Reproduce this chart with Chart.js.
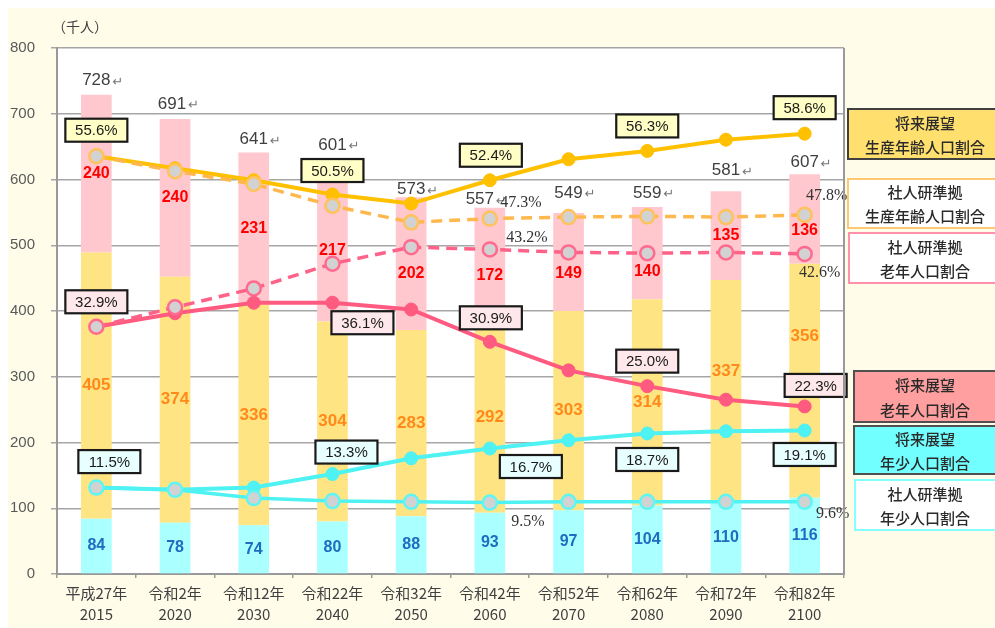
<!DOCTYPE html>
<html><head><meta charset="utf-8">
<script src="https://cdn.jsdelivr.net/npm/chart.js@4"></script>
<style>html,body{margin:0;padding:0;background:#fff}canvas{display:block}</style>
</head><body>
<canvas id="c" width="995" height="628"></canvas>
<script>
// ---- data ----
const eraLabels = ['平成27年','令和2年','令和12年','令和22年','令和32年','令和42年','令和52年','令和62年','令和72年','令和82年'];
const yearLabels = ['2015','2020','2030','2040','2050','2060','2070','2080','2090','2100'];
const youngPop = [84,78,74,80,88,93,97,104,110,116];
const workingPop = [405,374,336,304,283,292,303,314,337,356];
const elderlyPop = [240,240,231,217,202,172,149,140,135,136];
const totalPop = [728,691,641,601,573,557,549,559,581,607];
const workRatioFuture = [55.6,54.0,52.4,50.5,49.3,52.4,55.2,56.3,57.8,58.6];
const workRatioIpss = [55.6,53.6,51.9,49.0,46.8,47.3,47.5,47.6,47.5,47.8];
const elderRatioIpss = [32.9,35.5,38.0,41.3,43.5,43.2,42.8,42.7,42.8,42.6];
const elderRatioFuture = [32.9,34.7,36.1,36.1,35.2,30.9,27.1,25.0,23.2,22.3];
const youngRatioFuture = [11.5,11.2,11.5,13.3,15.4,16.7,17.8,18.7,19.0,19.1];
const youngRatioIpss = [11.5,11.2,10.1,9.7,9.6,9.5,9.6,9.6,9.6,9.6];
const legendItems = [
  ['将来展望','生産年齢人口割合'],
  ['社人研準拠','生産年齢人口割合'],
  ['社人研準拠','老年人口割合'],
  ['将来展望','老年人口割合'],
  ['将来展望','年少人口割合'],
  ['社人研準拠','年少人口割合']
];
const unitLabel = '（千人）';

// ---- styles / layout (not data) ----
const JP = '"Noto Sans CJK JP","Noto Sans",sans-serif';
const legendBoxes = [
  {x:848,y:109,h:50,fill:'#ffdf6e',stroke:'#404040'},
  {x:848,y:179,h:49,fill:'#ffffff',stroke:'#ffc873'},
  {x:849,y:233,h:50,fill:'#ffffff',stroke:'#ff92aa'},
  {x:854,y:371,h:51,fill:'#ff9f9f',stroke:'#505050'},
  {x:854,y:426,h:48,fill:'#72ffff',stroke:'#505050'},
  {x:855,y:480,h:50,fill:'#ffffff',stroke:'#86ffff'}
];
const totalLift = [14,15,13,34,8,8,20,14,21,12];
const totalShiftX = [0,-3,0,0,0,-10,0,0,0,0];

const bgPlugin = {
  id:'bg',
  beforeDraw(chart){
    const {ctx, chartArea:a} = chart;
    ctx.save();
    ctx.fillStyle='#ffffff'; ctx.fillRect(0,0,chart.width,chart.height);
    ctx.fillStyle='#fffdea'; ctx.fillRect(8,8,chart.width-8,chart.height-8);
    ctx.fillStyle='#ffffff'; ctx.fillRect(a.left,a.top,a.right-a.left,a.bottom-a.top);
    ctx.restore();
  },
  afterDraw(chart){
    const {ctx, chartArea:a} = chart;
    ctx.save();
    ctx.strokeStyle='#999999'; ctx.lineWidth=2;
    ctx.beginPath(); ctx.moveTo(a.right,a.top); ctx.lineTo(a.right,a.bottom+1); ctx.stroke();
    ctx.fillStyle='#404040'; ctx.font='14px '+JP; ctx.textBaseline='middle'; ctx.textAlign='left';
    ctx.fillText(unitLabel,52,27);
    legendBoxes.forEach((b,i)=>{
      ctx.fillStyle=b.fill; ctx.fillRect(b.x,b.y,1000-b.x,b.h);
      ctx.strokeStyle=b.stroke; ctx.lineWidth=2; ctx.strokeRect(b.x,b.y,1000-b.x,b.h);
      ctx.fillStyle='#2a2a2a'; ctx.font='500 15px '+JP; ctx.textAlign='center'; ctx.textBaseline='middle';
      ctx.fillText(legendItems[i][0],925,b.y+b.h*0.28);
      ctx.fillText(legendItems[i][1],925,b.y+b.h*0.77);
    });
    ctx.restore();
  }
};

const labelPlugin = {
  id:'valueLabels',
  afterDatasetsDraw(chart){
    const ctx = chart.ctx;
    ctx.save();
    ctx.textAlign='center'; ctx.textBaseline='middle';
    chart.data.datasets.forEach((ds,di)=>{
      const meta = chart.getDatasetMeta(di);
      if (ds.type==='bar') {
        meta.data.forEach((el,i)=>{
          const nudge = (ds.labelNudge && ds.labelNudge[i]) || 0;
          ctx.fillStyle = ds.labelColor;
          ctx.font = ds.labelFont;
          ctx.fillText(String(ds.data[i]), el.x, (el.y+el.base)/2 + nudge);
        });
        if (ds.isTop) {
          meta.data.forEach((el,i)=>{
            const y = el.y - totalLift[i];
            const x = el.x + totalShiftX[i];
            ctx.font='17px "Liberation Sans",Arial,sans-serif';
            ctx.fillStyle='#404040';
            ctx.textAlign='center';
            const t = String(totalPop[i]);
            ctx.fillText(t, x, y);
            const w = ctx.measureText(t).width;
            ctx.font='13px "DejaVu Sans",sans-serif';
            ctx.fillStyle='#777777';
            ctx.textAlign='left';
            ctx.fillText('↵', x + w/2 + 2, y+2);
            ctx.textAlign='center';
          });
        }
      }
    });
    chart.data.datasets.forEach((ds,di)=>{
      if (ds.type!=='line' || !ds.pctLabels) return;
      const meta = chart.getDatasetMeta(di);
      Object.keys(ds.pctLabels).forEach(k=>{
        const i = +k; const [dx,dy] = ds.pctLabels[k];
        const el = meta.data[i];
        const cx = el.x+dx, cy = el.y+dy;
        const txt = ds.data[i].toFixed(1)+'%';
        if (ds.boxFill) {
          const w=62,h=23;
          ctx.fillStyle=ds.boxFill; ctx.fillRect(cx-w/2,cy-h/2,w,h);
          ctx.strokeStyle='#1a1a1a'; ctx.lineWidth=2.2; ctx.strokeRect(cx-w/2,cy-h/2,w,h);
          ctx.fillStyle='#1a1a1a'; ctx.font='15px "Liberation Sans",Arial,sans-serif';
          ctx.textAlign='center'; ctx.fillText(txt,cx,cy+1);
        } else {
          ctx.fillStyle='#333333'; ctx.font='16px "Liberation Serif","Times New Roman",serif';
          ctx.textAlign='center'; ctx.fillText(txt,cx,cy);
        }
      });
    });
    ctx.restore();
  }
};

const barCommon = {type:'bar', stack:'pop', yAxisID:'y', order:10, barPercentage:1, categoryPercentage:0.39, borderWidth:0};
const lineCommon = {type:'line', yAxisID:'y2', tension:0, fill:false};

new Chart(document.getElementById('c'), {
  data: {
    labels: eraLabels.map((e,i)=>[e, yearLabels[i]]),
    datasets: [
      Object.assign({}, barCommon, {label:'年少人口', data:youngPop, backgroundColor:'#aaffff',
        labelColor:'#1f6cc0', labelFont:'bold 16px "Liberation Sans",Arial,sans-serif'}),
      Object.assign({}, barCommon, {label:'生産年齢人口', data:workingPop, backgroundColor:'#ffe483',
        labelColor:'#ff8a1a', labelFont:'bold 17px "Liberation Sans",Arial,sans-serif',
        labelNudge:{8:-20, 9:-44}}),
      Object.assign({}, barCommon, {label:'老年人口', data:elderlyPop, backgroundColor:'#ffc8ce', isTop:true,
        labelColor:'#ff0000', labelFont:'bold 16px "Liberation Sans",Arial,sans-serif',
        labelNudge:{4:10, 5:11, 6:12, 7:18, 9:12}}),
      Object.assign({}, lineCommon, {label:legendItems[0].join(''), data:workRatioFuture, order:2,
        borderColor:'#ffc000', borderWidth:4, pointRadius:6.5, pointBackgroundColor:'#ffc000', pointBorderColor:'#ffc000', pointBorderWidth:1,
        boxFill:'#ffffc6', pctLabels:{0:[0,-26],3:[0,-24],5:[1,-25],7:[0,-25],9:[0,-26]}}),
      Object.assign({}, lineCommon, {label:legendItems[3].join(''), data:elderRatioFuture, order:2,
        borderColor:'#ff5a80', borderWidth:4, pointRadius:6.5, pointBackgroundColor:'#ff5a80', pointBorderColor:'#ff5a80', pointBorderWidth:1,
        boxFill:'#ffe8ec', pctLabels:{0:[0,-25],3:[30,20],5:[1,-24],7:[0,-25],9:[11,-21]}}),
      Object.assign({}, lineCommon, {label:legendItems[4].join(''), data:youngRatioFuture, order:2,
        borderColor:'#4ef2f2', borderWidth:4, pointRadius:6.5, pointBackgroundColor:'#4ef2f2', pointBorderColor:'#4ef2f2', pointBorderWidth:1,
        boxFill:'#e8ffff', pctLabels:{0:[13,-26],3:[14,-22],5:[41,18],7:[0,26],9:[0,24]}}),
      Object.assign({}, lineCommon, {label:legendItems[1].join(''), data:workRatioIpss, order:1,
        borderColor:'#ffb84d', borderWidth:3.5, borderDash:[11,7], pointRadius:7, pointBackgroundColor:'#d2d2d2', pointBorderColor:'#ffc25c', pointBorderWidth:2.5,
        pctLabels:{5:[31,-16],9:[22,-19]}}),
      Object.assign({}, lineCommon, {label:legendItems[2].join(''), data:elderRatioIpss, order:1,
        borderColor:'#ff6288', borderWidth:3.5, borderDash:[11,7], pointRadius:7, pointBackgroundColor:'#d2d2d2', pointBorderColor:'#ff6a8e', pointBorderWidth:2.5,
        pctLabels:{5:[37,-12],9:[15,19]}}),
      Object.assign({}, lineCommon, {label:legendItems[5].join(''), data:youngRatioIpss, order:1,
        borderColor:'#4ef2f2', borderWidth:3.5, pointRadius:7, pointBackgroundColor:'#d2d2d2', pointBorderColor:'#5ff5f5', pointBorderWidth:2.5,
        pctLabels:{5:[38,19],9:[28,12]}})
    ]
  },
  options: {
    responsive:false, animation:false, devicePixelRatio:1,
    layout:{padding:{top:48,right:151,left:0,bottom:0}},
    plugins:{legend:{display:false}, tooltip:{enabled:false}},
    scales:{
      x:{stacked:true, offset:true,
        grid:{drawOnChartArea:false, drawTicks:true, tickLength:4, color:'#999999', lineWidth:1.5, offset:true},
        border:{display:true, color:'#999999', width:2},
        ticks:{color:'#404040', font:{family:JP, size:15, lineHeight:1.38}, padding:5, maxRotation:0, autoSkip:false},
        afterFit(s){ s.height = 54; }
      },
      y:{stacked:true, min:0, max:800,
        ticks:{stepSize:100, color:'#595959', font:{family:'"Liberation Sans",Arial,sans-serif', size:15}, padding:16},
        grid:{color:'#a6a6a6', lineWidth:1.5, tickLength:6},
        border:{display:true, color:'#999999', width:2},
        afterFit(s){ s.width = 57; }
      },
      y2:{display:false, min:0, max:70, position:'right', stacked:false}
    }
  },
  plugins:[bgPlugin, labelPlugin]
});
</script>
</body></html>
